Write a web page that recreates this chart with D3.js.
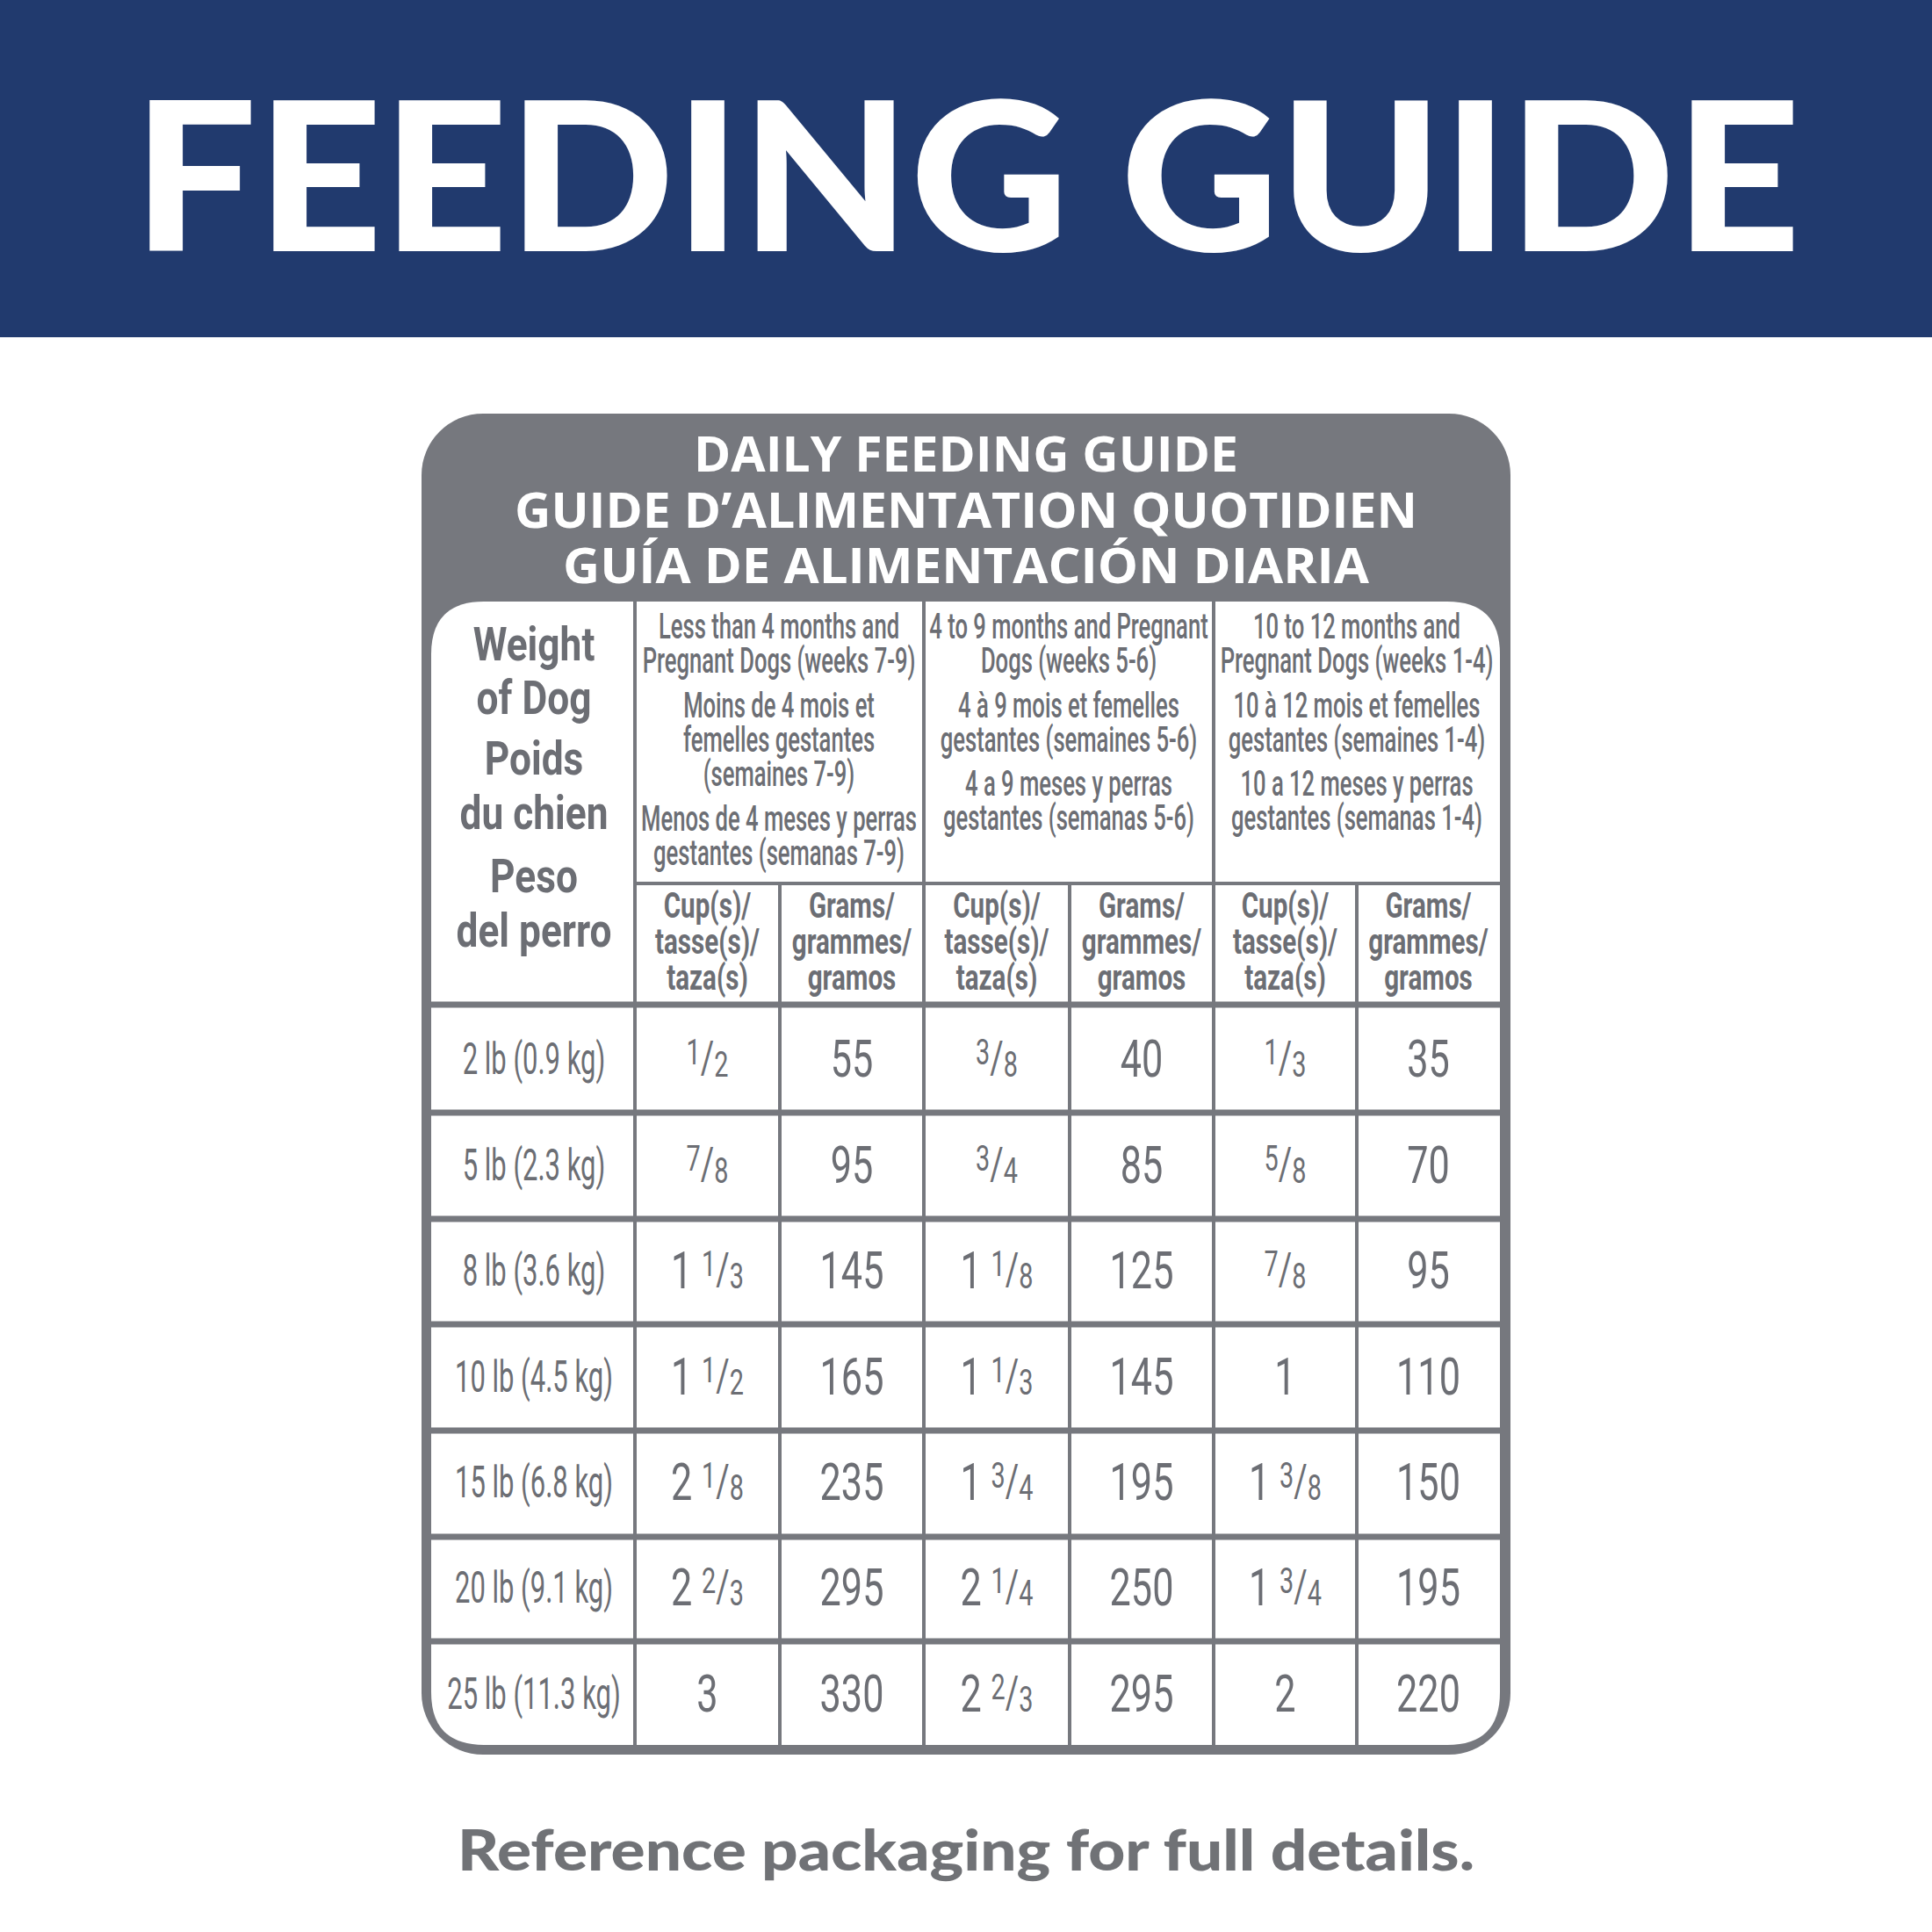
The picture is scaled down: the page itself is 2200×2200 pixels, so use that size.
<!DOCTYPE html>
<html>
<head>
<meta charset="utf-8">
<script src="https://cdn.jsdelivr.net/npm/d3@7"></script>
<style>
  body { margin: 0; background: #fff; }
</style>
</head>
<body>
<div id="chart"></div>
<script>
// table content
var weights = ["2 lb (0.9 kg)", "5 lb (2.3 kg)", "8 lb (3.6 kg)", "10 lb (4.5 kg)",
               "15 lb (6.8 kg)", "20 lb (9.1 kg)", "25 lb (11.3 kg)"];
var cupsLess4 = ["1/2", "7/8", "1 1/3", "1 1/2", "2 1/8", "2 2/3", "3"];
var gramsLess4 = [55, 95, 145, 165, 235, 295, 330];
var cups4to9 = ["3/8", "3/4", "1 1/8", "1 1/3", "1 3/4", "2 1/4", "2 2/3"];
var grams4to9 = [40, 85, 125, 145, 195, 250, 295];
var cups10to12 = ["1/3", "5/8", "7/8", "1", "1 3/8", "1 3/4", "2"];
var grams10to12 = [35, 70, 95, 110, 150, 195, 220];

var titleLines = ["DAILY FEEDING GUIDE", "GUIDE D\u2019ALIMENTATION QUOTIDIEN", "GU\u00CDA DE ALIMENTACI\u00D3N DIARIA"];
var weightHeader = ["Weight", "of Dog", "Poids", "du chien", "Peso", "del perro"];
var groupHeaders = [
  ["Less than 4 months and", "Pregnant Dogs (weeks 7-9)", "Moins de 4 mois et", "femelles gestantes", "(semaines 7-9)", "Menos de 4 meses y perras", "gestantes (semanas 7-9)"],
  ["4 to 9 months and Pregnant", "Dogs (weeks 5-6)", "4 \u00E0 9 mois et femelles", "gestantes (semaines 5-6)", "4 a 9 meses y perras", "gestantes (semanas 5-6)"],
  ["10 to 12 months and", "Pregnant Dogs (weeks 1-4)", "10 \u00E0 12 mois et femelles", "gestantes (semaines 1-4)", "10 a 12 meses y perras", "gestantes (semanas 1-4)"]
];
var subHeaders = [["Cup(s)/", "tasse(s)/", "taza(s)"], ["Grams/", "grammes/", "gramos"]];

var columns = [cupsLess4, gramsLess4, cups4to9, grams4to9, cups10to12, grams10to12];

var W = 2200, H = 2200;
var navy = "#213a6e", gray = "#76787e", txt = "#6c6e74";

var svg = d3.select("#chart").append("svg").attr("width", W).attr("height", H);

// banner
svg.append("rect").attr("x", 0).attr("y", 0).attr("width", W).attr("height", 384).attr("fill", navy);
svg.append("text").attr("x", 1101).attr("y", 286).attr("text-anchor", "middle")
  .attr("font-family", "Lato").attr("font-weight", 900).attr("font-size", 236)
  .attr("textLength", 1899).attr("lengthAdjust", "spacingAndGlyphs")
  .attr("fill", "#fff").text("FEEDING GUIDE");

// card
var card = {x0: 480, x1: 1720, y0: 471, y1: 1998};
svg.append("rect").attr("x", card.x0).attr("y", card.y0)
  .attr("width", card.x1 - card.x0).attr("height", card.y1 - card.y0)
  .attr("rx", 70).attr("fill", gray);

var titleY = d3.scalePoint().domain(d3.range(titleLines.length)).range([537, 664]);
var titleW = [620, 1028, 918];
svg.selectAll(".title").data(titleLines).enter().append("text")
  .attr("x", 1100).attr("y", function(d, i){ return titleY(i); })
  .attr("text-anchor", "middle").attr("font-family", "Open Sans").attr("font-weight", 700)
  .attr("font-size", 55).attr("fill", "#fff")
  .attr("textLength", function(d, i){ return titleW[i]; }).attr("lengthAdjust", "spacingAndGlyphs")
  .text(function(d){ return d; });

// table geometry
var colEdges = [491, 723, 888, 1052, 1218, 1382, 1545, 1708];
var rowEdges = [1144, 1267, 1388, 1508, 1629, 1750, 1869, 1987];
var tTop = 685, groupLine = 1006;

// white table body with rounded corners
var r = 60, tl = colEdges[0], tr = colEdges[7], tb = rowEdges[7];
svg.append("path").attr("fill", "#fff")
  .attr("d", "M" + (tl + r) + "," + tTop + " H" + (tr - r) + " Q" + tr + "," + tTop + " " + tr + "," + (tTop + r) +
    " V" + (tb - r) + " Q" + tr + "," + tb + " " + (tr - r) + "," + tb +
    " H" + (tl + r) + " Q" + tl + "," + tb + " " + tl + "," + (tb - r) +
    " V" + (tTop + r) + " Q" + tl + "," + tTop + " " + (tl + r) + "," + tTop + "Z");

var lines = svg.append("g").attr("stroke", gray);
// group separators (full height)
[1, 3, 5].forEach(function(i){
  lines.append("line").attr("x1", colEdges[i]).attr("x2", colEdges[i])
    .attr("y1", tTop).attr("y2", tb).attr("stroke-width", 4);
});
// sub-column separators
[2, 4, 6].forEach(function(i){
  lines.append("line").attr("x1", colEdges[i]).attr("x2", colEdges[i])
    .attr("y1", groupLine).attr("y2", tb).attr("stroke-width", 4);
});
lines.append("line").attr("x1", colEdges[1]).attr("x2", tr).attr("y1", groupLine).attr("y2", groupLine).attr("stroke-width", 4);
rowEdges.slice(0, 7).forEach(function(y){
  lines.append("line").attr("x1", tl).attr("x2", tr).attr("y1", y).attr("y2", y).attr("stroke-width", 7);
});

// condensed text helper
function condText(g, x, y, str, size, weight, sx) {
  return g.append("text").attr("transform", "translate(" + x + "," + y + ") scale(" + sx + ",1)")
    .attr("text-anchor", "middle").attr("font-family", "Roboto").attr("font-weight", weight)
    .attr("font-size", size).attr("fill", txt).text(str);
}

var hdr = svg.append("g");
var wY = [752, 813, 882, 944, 1016, 1078];
weightHeader.forEach(function(s, i){ condText(hdr, 608, wY[i], s, 54, 700, 0.82); });

var gCenters = [887, 1217, 1545];
var gY = [[727, 766, 817, 856, 895, 946, 985], [727, 766, 817, 856, 906, 945], [727, 766, 817, 856, 906, 945]];
groupHeaders.forEach(function(lines, g){
  lines.forEach(function(s, i){ condText(hdr, gCenters[g], gY[g][i], s, 40, 500, 0.64); });
});
var subY = [1045, 1086, 1127];
for (var c = 0; c < 6; c++) {
  var cx = (colEdges[c + 1] + colEdges[c + 2]) / 2;
  subHeaders[c % 2].forEach(function(s, i){ condText(hdr, cx, subY[i], s, 40, 700, 0.74); });
}

// data rows
var rowY = d3.scaleBand().domain(d3.range(weights.length)).range([rowEdges[0], rowEdges[7]]);
var body = svg.append("g");
weights.forEach(function(w, i){
  condText(body, 608, rowY(i) + rowY.bandwidth() / 2 + 19, w, 50, 400, 0.62);
});

function fracText(x, y, val) {
  var t = body.append("text").attr("transform", "translate(" + x + "," + y + ") scale(0.72,1)")
    .attr("text-anchor", "middle").attr("font-family", "Roboto").attr("font-size", 60).attr("fill", txt);
  var parts = String(val).split(" ");
  parts.forEach(function(p, k){
    if (p.indexOf("/") < 0) {
      t.append("tspan").text(p + (k < parts.length - 1 ? " " : ""));
    } else {
      var nd = p.split("/");
      t.append("tspan").attr("font-size", 40).attr("dy", -14).text(nd[0]);
      t.append("tspan").attr("font-size", 52).attr("dy", 10).text("/");
      t.append("tspan").attr("font-size", 40).attr("dy", 4).text(nd[1]);
    }
  });
}
columns.forEach(function(col, c){
  var cx = (colEdges[c + 1] + colEdges[c + 2]) / 2;
  col.forEach(function(v, i){ fracText(cx, rowY(i) + rowY.bandwidth() / 2 + 22, v); });
});

// footer
svg.append("text").attr("x", 1100).attr("y", 2130).attr("text-anchor", "middle")
  .attr("font-family", "Lato").attr("font-weight", 900).attr("font-size", 64)
  .attr("textLength", 1158).attr("lengthAdjust", "spacingAndGlyphs")
  .attr("fill", "#707276").text("Reference packaging for full details.");
</script>
</body>
</html>
